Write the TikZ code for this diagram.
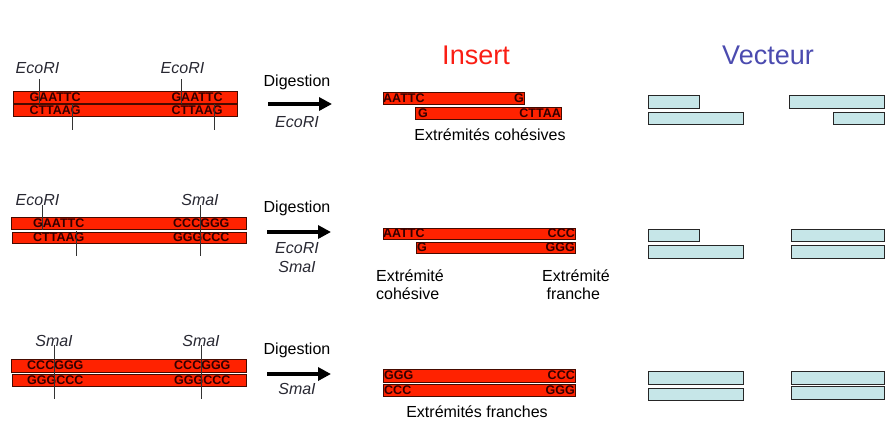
\documentclass[tikz,border=0pt]{standalone}
\usepackage{fontspec}
\setmainfont{Liberation Sans}
\usetikzlibrary{arrows.meta,positioning}
\definecolor{strandred}{RGB}{255,34,0}
\definecolor{strandline}{RGB}{70,10,0}
\definecolor{seqcol}{RGB}{50,0,0}
\definecolor{vecfill}{RGB}{198,230,232}
\definecolor{titlered}{RGB}{250,30,20}
\definecolor{titleblue}{RGB}{75,75,175}
\definecolor{enzcol}{RGB}{40,40,50}

\begin{document}
\begin{tikzpicture}[x=1pt,y=-1pt,
    strand/.style={draw=strandline,fill=strandred,line width=0.8pt},
    vec/.style={draw=black!85,fill=vecfill,line width=1pt},
    seq/.style={inner sep=0pt,text=seqcol,font=\fontsize{12.5}{13}\selectfont\bfseries},
    enz/.style={inner sep=1pt,text=enzcol,font=\fontsize{16}{18}\selectfont\itshape},
    lab/.style={inner sep=0pt,font=\fontsize{16}{18}\selectfont},
    title/.style={inner sep=0pt,font=\fontsize{27}{30}\selectfont},
    cut/.style={draw=black!80,line width=0.8pt},
    dig/.style={line width=4pt,-{Triangle[length=13pt,width=13pt]}}]
  \useasboundingbox (0,0) rectangle (885,432);

  % titles
  \node[title,text=titlered] (tins) at (476,55) {Insert};
  \node[title,text=titleblue] (tvec) at (768,55) {Vecteur};

  % ---- row 1 : EcoRI / EcoRI
  \draw[strand] (13,91) rectangle (237,103);
  \draw[strand] (13,104.5) rectangle (237,116.5);
  \node[seq,anchor=west] (r1a) at (29.3,97) {GAATTC};
  \node[seq,anchor=west] (r1b) at (29.3,110.5) {CTTAAG};
  \node[seq,anchor=west] (r1c) at (171.3,97) {GAATTC};
  \node[seq,anchor=west] (r1d) at (171.3,110.5) {CTTAAG};
  \node[enz] (e1) at (37.5,68) {EcoRI};
  \node[enz] (e2) at (182.5,68) {EcoRI};
  \coordinate (c1a) at (39,79);  \coordinate (c1b) at (39,104);
  \coordinate (c1c) at (72,104); \coordinate (c1d) at (72,130);
  \coordinate (c2a) at (181,79); \coordinate (c2b) at (181,104);
  \coordinate (c2c) at (214,104);\coordinate (c2d) at (214,130);
  \draw[cut] (c1a) -- (c1b);
  \draw[cut] (c1c) -- (c1d);
  \draw[cut] (c2a) -- (c2b);
  \draw[cut] (c2c) -- (c2d);

  \node[lab] (d1) at (297,82) {Digestion};
  \coordinate (a1s) at (268,104);
  \coordinate (a1e) at (332,104);
  \draw[dig] (a1s) -- (a1e);
  \node[enz] (d1e) at (297,122) {EcoRI};

  \draw[strand] (383,92.5) rectangle (524,104);
  \draw[strand] (415,107) rectangle (561,119);
  \node[seq,anchor=west] (i1a) at (383,98.5) {AATTC};
  \node[seq,anchor=east] (i1b) at (524,98.5) {G};
  \node[seq,anchor=west] (i1c) at (418,113) {G};
  \node[seq,anchor=east] (i1d) at (561,113) {CTTAA};
  \node[lab] (x1) at (490,135) {Extrémités cohésives};

  \draw[vec] (648,95) rectangle (699,108);
  \draw[vec] (648,112) rectangle (743,124);
  \draw[vec] (789,95) rectangle (884.5,108);
  \draw[vec] (833,112) rectangle (884.5,124);

  % ---- row 2 : EcoRI / SmaI
  \draw[strand] (11,217) rectangle (246,229);
  \draw[strand] (12,232) rectangle (246,243);
  \node[seq,anchor=west] (r2a) at (33,223) {GAATTC};
  \node[seq,anchor=west] (r2b) at (33,237.5) {CTTAAG};
  \node[seq,anchor=west] (r2c) at (173,223) {CCCGGG};
  \node[seq,anchor=west] (r2d) at (173,237.5) {GGGCCC};
  \node[enz] (e3) at (37.5,200) {EcoRI};
  \node[enz] (e4) at (200,200) {SmaI};
  \coordinate (c3a) at (42.5,205);  \coordinate (c3b) at (42.5,230);
  \coordinate (c3c) at (76,231);  \coordinate (c3d) at (76,256);
  \coordinate (c4a) at (200,205); \coordinate (c4b) at (200,256);
  \draw[cut] (c3a) -- (c3b);
  \draw[cut] (c3c) -- (c3d);
  \draw[cut] (c4a) -- (c4b);

  \node[lab] (d2) at (297,208) {Digestion};
  \coordinate (a2s) at (267,232);
  \coordinate (a2e) at (331,232);
  \draw[dig] (a2s) -- (a2e);
  \node[enz] (d2e) at (297,248) {EcoRI};
  \node[enz] (d2s) at (297,267) {SmaI};

  \draw[strand] (383,228) rectangle (575,239);
  \draw[strand] (416,242) rectangle (575,253);
  \node[seq,anchor=west] (i2a) at (383,233.5) {AATTC};
  \node[seq,anchor=east] (i2b) at (575,233.5) {CCC};
  \node[seq,anchor=west] (i2c) at (417,247.5) {G};
  \node[seq,anchor=east] (i2d) at (575,247.5) {GGG};
  \node[lab,align=left,anchor=west] (x2) at (376,285) {Extrémité\\cohésive};
  \node[lab,align=left,anchor=west] (x3) at (542,285) {Extrémité\\\ franche};

  \draw[vec] (648,229) rectangle (699,241);
  \draw[vec] (648,245) rectangle (743,258);
  \draw[vec] (791,229) rectangle (884.5,241);
  \draw[vec] (791,245) rectangle (884.5,258);

  % ---- row 3 : SmaI / SmaI
  \draw[strand] (11,359) rectangle (246,372);
  \draw[strand] (12,374) rectangle (246,386);
  \node[seq,anchor=west] (r3a) at (27,365.5) {CCCGGG};
  \node[seq,anchor=west] (r3b) at (27,380) {GGGCCC};
  \node[seq,anchor=west] (r3c) at (174,365.5) {CCCGGG};
  \node[seq,anchor=west] (r3d) at (174,380) {GGGCCC};
  \node[enz] (e5) at (54,341) {SmaI};
  \node[enz] (e6) at (201,341) {SmaI};
  \coordinate (c5a) at (54,345);  \coordinate (c5b) at (54,399);
  \coordinate (c6a) at (201,345); \coordinate (c6b) at (201,399);
  \draw[cut] (c5a) -- (c5b);
  \draw[cut] (c6a) -- (c6b);

  \node[lab] (d3) at (297,350) {Digestion};
  \coordinate (a3s) at (267,374);
  \coordinate (a3e) at (331,374);
  \draw[dig] (a3s) -- (a3e);
  \node[enz] (d3s) at (297,389) {SmaI};

  \draw[strand] (383,369) rectangle (575,382);
  \draw[strand] (383,384) rectangle (575,396);
  \node[seq,anchor=west] (i3a) at (384,375.5) {GGG};
  \node[seq,anchor=east] (i3b) at (575,375.5) {CCC};
  \node[seq,anchor=west] (i3c) at (384,390) {CCC};
  \node[seq,anchor=east] (i3d) at (575,390) {GGG};
  \node[lab] (x4) at (477,412) {Extrémités franches};

  \draw[vec] (648,371) rectangle (743,384);
  \draw[vec] (648,388) rectangle (743,400);
  \draw[vec] (791,371) rectangle (884.5,384);
  \draw[vec] (791,386) rectangle (884.5,399);
\end{tikzpicture}
\end{document}
